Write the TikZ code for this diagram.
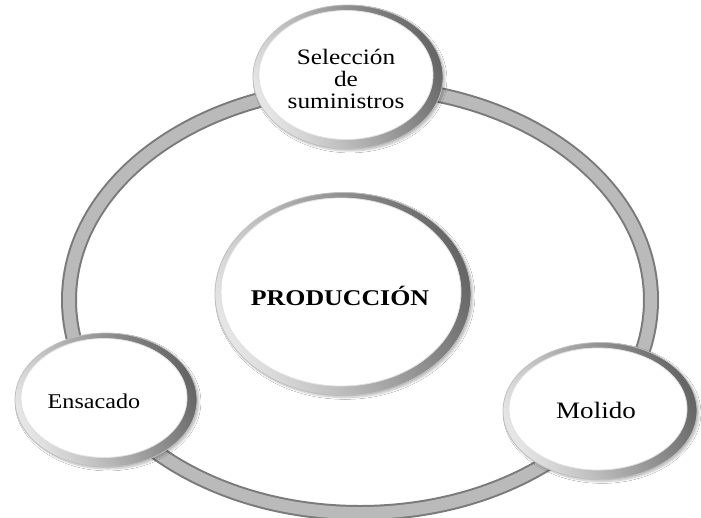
\documentclass[tikz,border=0pt]{standalone}
\usepackage{fontspec}
\setmainfont{Liberation Serif}[FakeStretch=1.15]
\usetikzlibrary{shapes.geometric,shadows.blur,calc}
\begin{document}
\begin{tikzpicture}[x=1pt,y=-1pt,
  bubble/.style={ellipse, inner sep=0pt, draw=black!25, line width=0.8pt,
    left color=black!10, right color=black!60, shading angle=115,
    blur shadow={shadow xshift=2pt, shadow yshift=-2pt, shadow blur steps=6, shadow opacity=25},
    path picture={
      \fill[white, draw=black!12, line width=0.8pt]
        let \p1=(path picture bounding box.center),
            \p2=(path picture bounding box.north east) in
        (\x1-2pt,\y1+2pt) ellipse [x radius=\x2-\x1-8pt, y radius=\y2-\y1-7.5pt];
    }},
  lbl/.style={align=center, text=black, font=\fontsize{#1}{22}\selectfont},
  ringstyle/.style={ellipse, inner sep=0pt, draw=black!52, line width=2pt,
    double=black!27, double distance=12pt}]
\useasboundingbox (0,0) rectangle (701,517);
\fill[white] (0,0) rectangle (701,517);

\node[ringstyle, minimum width=582pt, minimum height=426pt] (ring) at (360,300) {};

\node[bubble, minimum width=190pt, minimum height=144pt] (sel) at (348,77) {};
\node[lbl=22] (selT) at (346,79) {Selección\\de\\suministros};

\node[bubble, minimum width=256pt, minimum height=203pt] (prod) at (343,294) {};
\node[font=\fontsize{22.5}{24}\selectfont\bfseries] (prodT) at (340,296) {PRODUCCIÓN};

\node[bubble, minimum width=182pt, minimum height=134pt] (ens) at (106,400) {};
\node[lbl=21] (ensT) at (94,401) {Ensacado};

\node[bubble, minimum width=194pt, minimum height=137pt] (mol) at (600,411) {};
\node[lbl=23.5] (molT) at (596,410) {Molido};
\end{tikzpicture}
\end{document}
